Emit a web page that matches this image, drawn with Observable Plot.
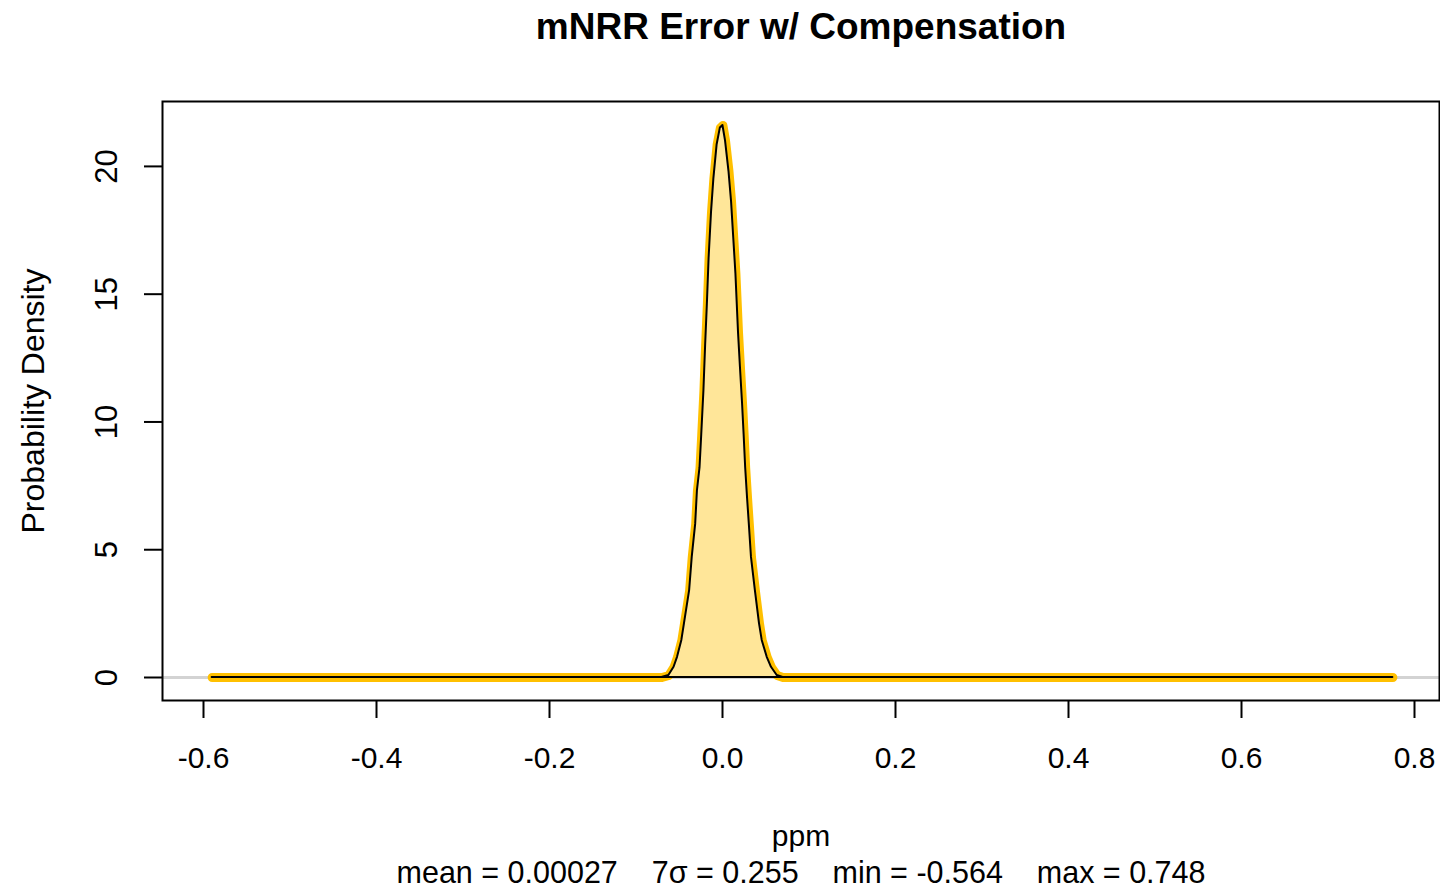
<!DOCTYPE html>
<html>
<head>
<meta charset="utf-8">
<script src="https://cdn.jsdelivr.net/npm/d3@7"></script>
<script src="https://cdn.jsdelivr.net/npm/@observablehq/plot@0.6"></script>
<style>
  html, body { margin: 0; padding: 0; background: white; }
  #chart { width: 1440px; height: 888px; overflow: hidden; }
</style>
</head>
<body>
<div id="chart"></div>
<script>
// ---- Data (density of mNRR error, ppm) ----
const xVals = [-0.59, -0.07, -0.062, -0.056, -0.052, -0.047, -0.044, -0.038, -0.035, -0.031,
  -0.029, -0.026, -0.024, -0.0215, -0.0195, -0.0175, -0.0155, -0.0127, -0.0100, -0.0062,
  -0.0025, 0.0005, 0.0035, 0.0075, 0.0105, 0.013, 0.0155, 0.0185, 0.0208, 0.0232,
  0.0250, 0.0268, 0.0290, 0.0310, 0.0335, 0.038, 0.0428, 0.0459, 0.0517, 0.0566,
  0.0632, 0.07, 0.775];
const yVals = [0, 0, 0.08, 0.4, 0.79, 1.45, 2.1, 3.4, 4.7, 6.0,
  7.3, 8.2, 9.5, 11.2, 13.0, 14.6, 16.4, 18.2, 19.5, 20.85,
  21.5, 21.6, 21.0, 19.8, 18.6, 17.2, 15.8, 13.5, 12.1, 10.7,
  9.5, 8.2, 7.0, 6.0, 4.7, 3.4, 2.1, 1.45, 0.79, 0.4,
  0.08, 0, 0];
const xTicks = [-0.6, -0.4, -0.2, 0.0, 0.2, 0.4, 0.6, 0.8];
const yTicks = [0, 5, 10, 15, 20];
const titleText = "mNRR Error w/ Compensation";
const xLabel = "ppm";
const yLabel = "Probability Density";
const statsText = "mean = 0.00027    7\u03C3 = 0.255    min = -0.564    max = 0.748";

const data = xVals.map((x, i) => ({x, y: yVals[i]}));

const chart = Plot.plot({
  width: 1440,
  height: 888,
  marginLeft: 162,
  marginRight: 1,
  marginTop: 101,
  marginBottom: 188,
  style: {fontFamily: "'Liberation Sans', Arial, sans-serif", fontSize: "30px", background: "white", color: "black"},
  x: {domain: [-0.6474, 0.8289]},
  y: {domain: [-0.90, 22.54]},
  marks: [
    Plot.ruleY([0], {stroke: "#d3d3d3", strokeWidth: 3}),
    Plot.line(data, {x: "x", y: "y", stroke: "#FFC000", strokeWidth: 9, strokeLinecap: "round", strokeLinejoin: "round"}),
    Plot.areaY(data, {x: "x", y: "y", fill: "#FFE699", stroke: "black", strokeWidth: 2}),
    Plot.frame({stroke: "black", strokeWidth: 2}),
    Plot.axisX({ticks: xTicks, tickSize: 18, tickPadding: 28, strokeWidth: 2, tickFormat: d => d.toFixed(1), label: null}),
    Plot.axisY({ticks: yTicks, tickSize: 18, strokeWidth: 2, tickFormat: () => "", label: null}),
    Plot.text(yTicks, {y: d => d, text: d => String(d), frameAnchor: "left", dx: -55, rotate: -90, textAnchor: "middle", lineAnchor: "middle", fontSize: 31}),
    Plot.text([yLabel], {frameAnchor: "left", dx: -129, rotate: -90, textAnchor: "middle", lineAnchor: "middle", fontSize: 32}),
    Plot.text([titleText], {frameAnchor: "top", dy: -63, lineAnchor: "bottom", fontSize: 37, fontWeight: "bold"}),
    Plot.text([xLabel], {frameAnchor: "bottom", dy: 145, lineAnchor: "bottom", fontSize: 30}),
    Plot.text([statsText], {frameAnchor: "bottom", dy: 182, lineAnchor: "bottom", fontSize: 30.5})
  ]
});
document.getElementById("chart").appendChild(chart);
</script>
</body>
</html>
